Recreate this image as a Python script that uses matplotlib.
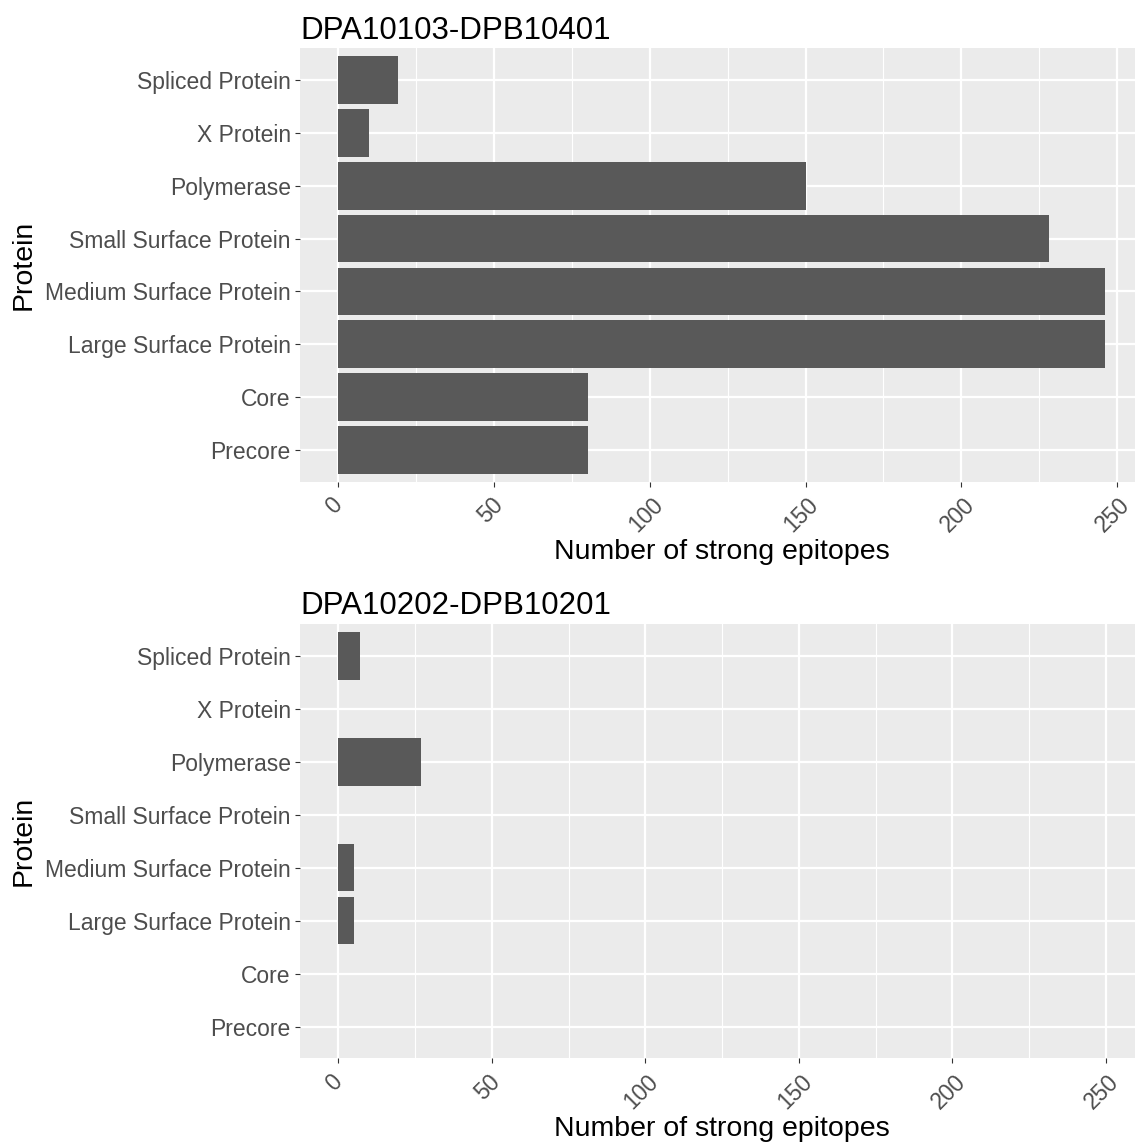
import numpy as np
import matplotlib
matplotlib.use("Agg")
import matplotlib.pyplot as plt
import matplotlib.transforms as mtrans
from matplotlib.ticker import MultipleLocator

plt.rcParams['font.family'] = ['Liberation Sans', 'DejaVu Sans']

proteins = ["Precore", "Core", "Large Surface Protein", "Medium Surface Protein",
            "Small Surface Protein", "Polymerase", "X Protein", "Spliced Protein"]
top_title = "DPA10103-DPB10401"
top_counts = [80, 80, 246, 246, 228, 150, 10, 19]
bottom_title = "DPA10202-DPB10201"
bottom_counts = [0, 0, 5, 5, 0, 27, 0, 7]
x_ticks = [0, 50, 100, 150, 200, 250]

W, H = 1135, 1146
fig = plt.figure(figsize=(W / 100, H / 100), dpi=100)

# panel boxes in pixels: left, top, width, height
panels = [
    (top_title, top_counts, (300, 48.3, 843, 433.4), (-12.3, 258.3)),
    (bottom_title, bottom_counts, (300, 624, 843, 434.3), (-12.5, 262.1)),
]

# small nudge so the rotated labels sit like ggplot's
nudge = mtrans.ScaledTranslation(-4 / 100, -1 / 100, fig.dpi_scale_trans)

for title, counts, (px, py, pw, ph), xlim in panels:
    ax = fig.add_axes([px / W, 1 - (py + ph) / H, pw / W, ph / H])
    ax.set_facecolor("#EBEBEB")
    y = np.arange(len(proteins))
    ax.barh(y, counts, height=0.9, color="#595959", zorder=3)
    ax.set_xlim(*xlim)
    ax.set_ylim(-0.6, len(proteins) - 0.4)

    ax.set_xticks(x_ticks)
    ax.set_xticklabels([str(t) for t in x_ticks], rotation=45, ha="center", va="top")
    ax.xaxis.set_minor_locator(MultipleLocator(25))
    ax.set_yticks(y)
    ax.set_yticklabels(proteins)

    ax.grid(which="major", color="white", linewidth=1.6, zorder=0)
    ax.grid(which="minor", axis="x", color="white", linewidth=0.8, zorder=0)
    ax.set_axisbelow(True)
    for s in ax.spines.values():
        s.set_visible(False)

    ax.tick_params(which="major", length=3.6, width=0.8, color="#333333",
                   labelcolor="#4D4D4D", labelsize=16.5, pad=3)
    ax.tick_params(axis="x", pad=4)
    ax.tick_params(which="minor", length=0)
    for lab in ax.get_xticklabels():
        lab.set_transform(lab.get_transform() + nudge)

    ax.set_title(title, loc="left", fontsize=22.5, color="black", pad=7)
    ax.set_xlabel("Number of strong epitopes", fontsize=20.5, va="center")
    ax.xaxis.set_label_coords(0.5, -0.163)
    ax.set_ylabel("Protein", fontsize=20.5, va="center")
    ax.yaxis.set_label_coords((24 - px) / pw, 0.5)

fig.savefig("out.png", dpi=100)
